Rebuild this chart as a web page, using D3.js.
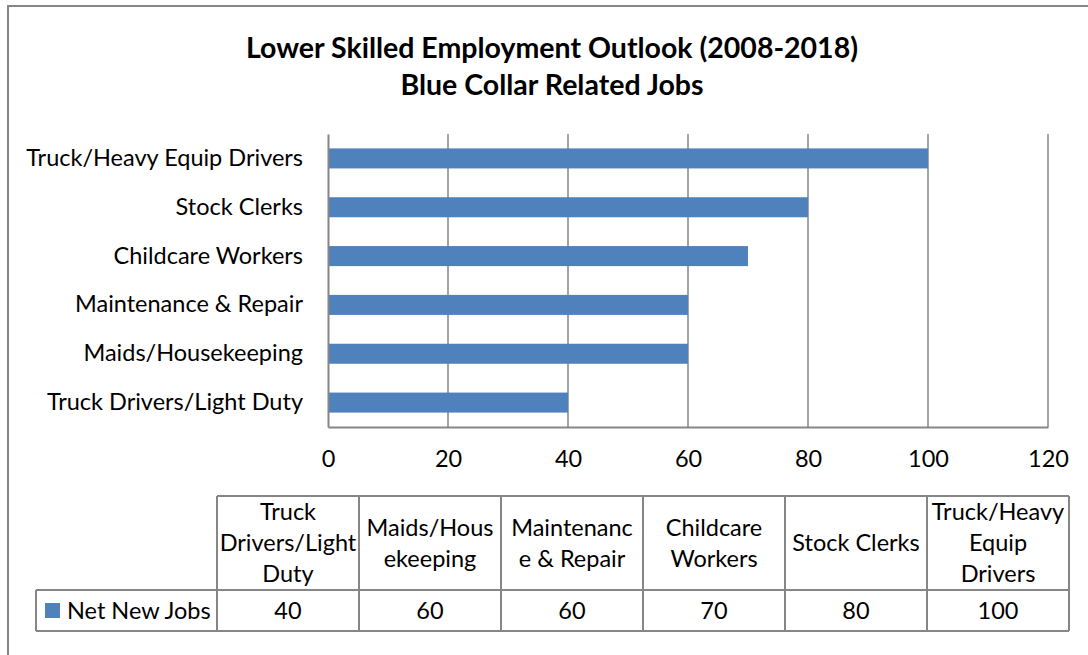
<!DOCTYPE html>
<html>
<head>
<meta charset="utf-8">
<script src="https://cdn.jsdelivr.net/npm/d3@7"></script>
<style>
  html, body { margin: 0; padding: 0; background: #fff; }
  svg { display: block; }
  text { font-family: Lato, "Open Sans", sans-serif; fill: #000; }
</style>
</head>
<body>
<svg id="chart" width="1088" height="655"></svg>
<script>
// Categories in data-table order (bottom bar first)
const categories = [
  "Truck Drivers/Light Duty",
  "Maids/Housekeeping",
  "Maintenance & Repair",
  "Childcare Workers",
  "Stock Clerks",
  "Truck/Heavy Equip Drivers"
];
const netNewJobs = [40, 60, 60, 70, 80, 100];
const xTicks = [0, 20, 40, 60, 80, 100, 120];
const seriesName = "Net New Jobs";
// Wrapped header text as it appears in the data table cells
const headerLines = [
  ["Truck", "Drivers/Light", "Duty"],
  ["Maids/Hous", "ekeeping"],
  ["Maintenanc", "e & Repair"],
  ["Childcare", "Workers"],
  ["Stock Clerks"],
  ["Truck/Heavy", "Equip", "Drivers"]
];
const titleLines = ["Lower Skilled Employment Outlook (2008-2018)", "Blue Collar Related Jobs"];

const barColor = "#4F81BD";
const lineColor = "#868686";
const fontSize = 23.5;

const svg = d3.select("#chart");

// Chart frame (extends past the window on the right and bottom)
svg.append("rect")
  .attr("x", 8).attr("y", 6)
  .attr("width", 1200).attr("height", 800)
  .attr("fill", "none").attr("stroke", lineColor).attr("stroke-width", 2);

// Title
svg.append("g").selectAll("text").data(titleLines).join("text")
  .attr("x", 552)
  .attr("y", (d, i) => 58 + i * 37)
  .attr("text-anchor", "middle")
  .attr("font-weight", "bold")
  .attr("font-size", 28.5)
  .text(d => d);

// Scales
const plot = { left: 328, right: 1048, top: 134, bottom: 427 };
const x = d3.scaleLinear().domain([0, 120]).range([plot.left, plot.right]);
const y = d3.scaleBand()
  .domain(categories.slice().reverse())
  .range([plot.top, plot.bottom])
  .paddingInner(0.59)
  .paddingOuter(0.295);

// Vertical gridlines
svg.append("g").selectAll("line").data(xTicks.filter(t => t > 0)).join("line")
  .attr("x1", d => x(d)).attr("x2", d => x(d))
  .attr("y1", plot.top).attr("y2", plot.bottom)
  .attr("stroke", lineColor).attr("stroke-width", 1.5);

// Bars
svg.append("g").selectAll("rect").data(categories.map((c, i) => ({ c, v: netNewJobs[i] }))).join("rect")
  .attr("x", x(0))
  .attr("y", d => y(d.c))
  .attr("width", d => x(d.v) - x(0))
  .attr("height", y.bandwidth())
  .attr("fill", barColor);

// X axis
const xAxis = svg.append("g")
  .attr("transform", `translate(0,${plot.bottom})`)
  .call(d3.axisBottom(x).tickValues(xTicks).tickSize(0).tickPadding(23));
xAxis.select(".domain").attr("stroke", lineColor).attr("stroke-width", 2);
xAxis.selectAll("text").attr("font-size", fontSize).attr("font-family", "Lato, sans-serif").attr("fill", "#000");

// Y axis
const yAxis = svg.append("g")
  .attr("transform", `translate(${plot.left},0)`)
  .call(d3.axisLeft(y).tickSize(0).tickPadding(25));
yAxis.select(".domain").attr("stroke", lineColor).attr("stroke-width", 2);
yAxis.selectAll("text").attr("font-size", fontSize).attr("font-family", "Lato, sans-serif").attr("fill", "#000");

// Data table
const table = { left: 217, right: 1069, top: 496, mid: 590, bottom: 631, keyLeft: 36 };
const col = d3.scaleBand().domain(categories).range([table.left, table.right]);
const tg = svg.append("g").attr("stroke", lineColor).attr("stroke-width", 2);
// Horizontal rules
tg.append("line").attr("x1", table.left).attr("x2", table.right).attr("y1", table.top).attr("y2", table.top);
tg.append("line").attr("x1", table.keyLeft).attr("x2", table.right).attr("y1", table.mid).attr("y2", table.mid);
tg.append("line").attr("x1", table.keyLeft).attr("x2", table.right).attr("y1", table.bottom).attr("y2", table.bottom);
// Vertical rules
tg.append("line").attr("x1", table.keyLeft).attr("x2", table.keyLeft).attr("y1", table.mid).attr("y2", table.bottom);
tg.selectAll("line.v").data(categories).join("line").attr("class", "v")
  .attr("x1", d => col(d)).attr("x2", d => col(d))
  .attr("y1", table.top).attr("y2", table.bottom);
tg.append("line").attr("x1", table.right).attr("x2", table.right).attr("y1", table.top).attr("y2", table.bottom);

// Header cells
const headerMid = (table.top + table.mid) / 2;
const lineH = 31;
categories.forEach((c, i) => {
  const lines = headerLines[i];
  svg.append("g").selectAll("text").data(lines).join("text")
    .attr("x", col(c) + col.bandwidth() / 2)
    .attr("y", (d, j) => headerMid + (j - (lines.length - 1) / 2) * lineH)
    .attr("dy", "0.35em")
    .attr("text-anchor", "middle")
    .attr("font-size", fontSize)
    .text(d => d);
});

// Value cells
const valueMid = (table.mid + table.bottom) / 2;
svg.append("g").selectAll("text").data(categories.map((c, i) => ({ c, v: netNewJobs[i] }))).join("text")
  .attr("x", d => col(d.c) + col.bandwidth() / 2)
  .attr("y", valueMid)
  .attr("dy", "0.35em")
  .attr("text-anchor", "middle")
  .attr("font-size", fontSize)
  .text(d => d.v);

// Legend key in the row header
svg.append("rect")
  .attr("x", 45).attr("y", valueMid - 7.5)
  .attr("width", 15).attr("height", 15)
  .attr("fill", barColor);
svg.append("text")
  .attr("x", 67).attr("y", valueMid)
  .attr("dy", "0.35em")
  .attr("font-size", fontSize)
  .text(seriesName);
</script>
</body>
</html>
